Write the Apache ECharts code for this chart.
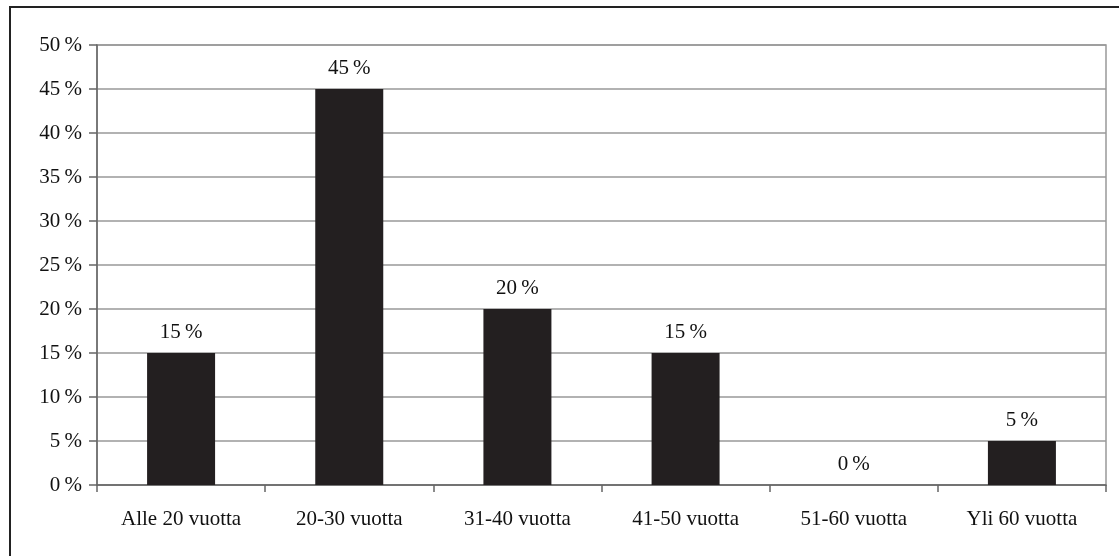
<!DOCTYPE html>
<html>
<head>
<meta charset="utf-8">
<script src="https://cdn.jsdelivr.net/npm/echarts@6/dist/echarts.min.js"></script>
<style>
  html, body { margin: 0; padding: 0; background: #fff; }
  #frame { position: absolute; left: 9px; top: 6px; width: 1200px; height: 700px;
           border-top: 2px solid #222; border-left: 2px solid #222; }
  #chart { position: absolute; left: 0; top: 0; width: 1119px; height: 556px; }
</style>
</head>
<body>
<div id="frame"></div>
<div id="chart"></div>
<script>
// Age groups and share of respondents (%)
const categories = ['Alle 20 vuotta', '20-30 vuotta', '31-40 vuotta', '41-50 vuotta', '51-60 vuotta', 'Yli 60 vuotta'];
const shares = [15, 45, 20, 15, 0, 5];
const yTicks = [0, 5, 10, 15, 20, 25, 30, 35, 40, 45, 50];

const font = '"Liberation Serif", "DejaVu Serif", serif';
const pct = v => v + '\u2009%';
const chart = echarts.init(document.getElementById('chart'), null, { renderer: 'canvas' });
chart.setOption({
  animation: false,
  backgroundColor: 'transparent',
  grid: { left: 97, right: 13, top: 45, bottom: 71, show: true, borderColor: '#999', borderWidth: 1.5 },
  xAxis: {
    type: 'category',
    data: categories,
    axisLine: { lineStyle: { color: '#666', width: 1.5 } },
    axisTick: { show: true, length: 7, lineStyle: { color: '#666', width: 1.5 } },
    axisLabel: { color: '#111', fontFamily: font, fontSize: 21, margin: 24 }
  },
  yAxis: {
    type: 'value',
    min: yTicks[0],
    max: yTicks[yTicks.length - 1],
    interval: 5,
    axisLine: { show: true, lineStyle: { color: '#666', width: 1.5 } },
    axisTick: { show: true, length: 8, lineStyle: { color: '#666', width: 1.5 } },
    splitLine: { lineStyle: { color: '#999', width: 1.5 } },
    axisLabel: { color: '#111', fontFamily: font, fontSize: 21, margin: 15, formatter: pct }
  },
  series: [{
    type: 'bar',
    data: shares,
    barWidth: 68,
    itemStyle: { color: '#231f20' },
    label: {
      show: true, position: 'top', distance: 10,
      color: '#111', fontFamily: font, fontSize: 21,
      formatter: p => pct(p.value)
    }
  }]
});
</script>
</body>
</html>
